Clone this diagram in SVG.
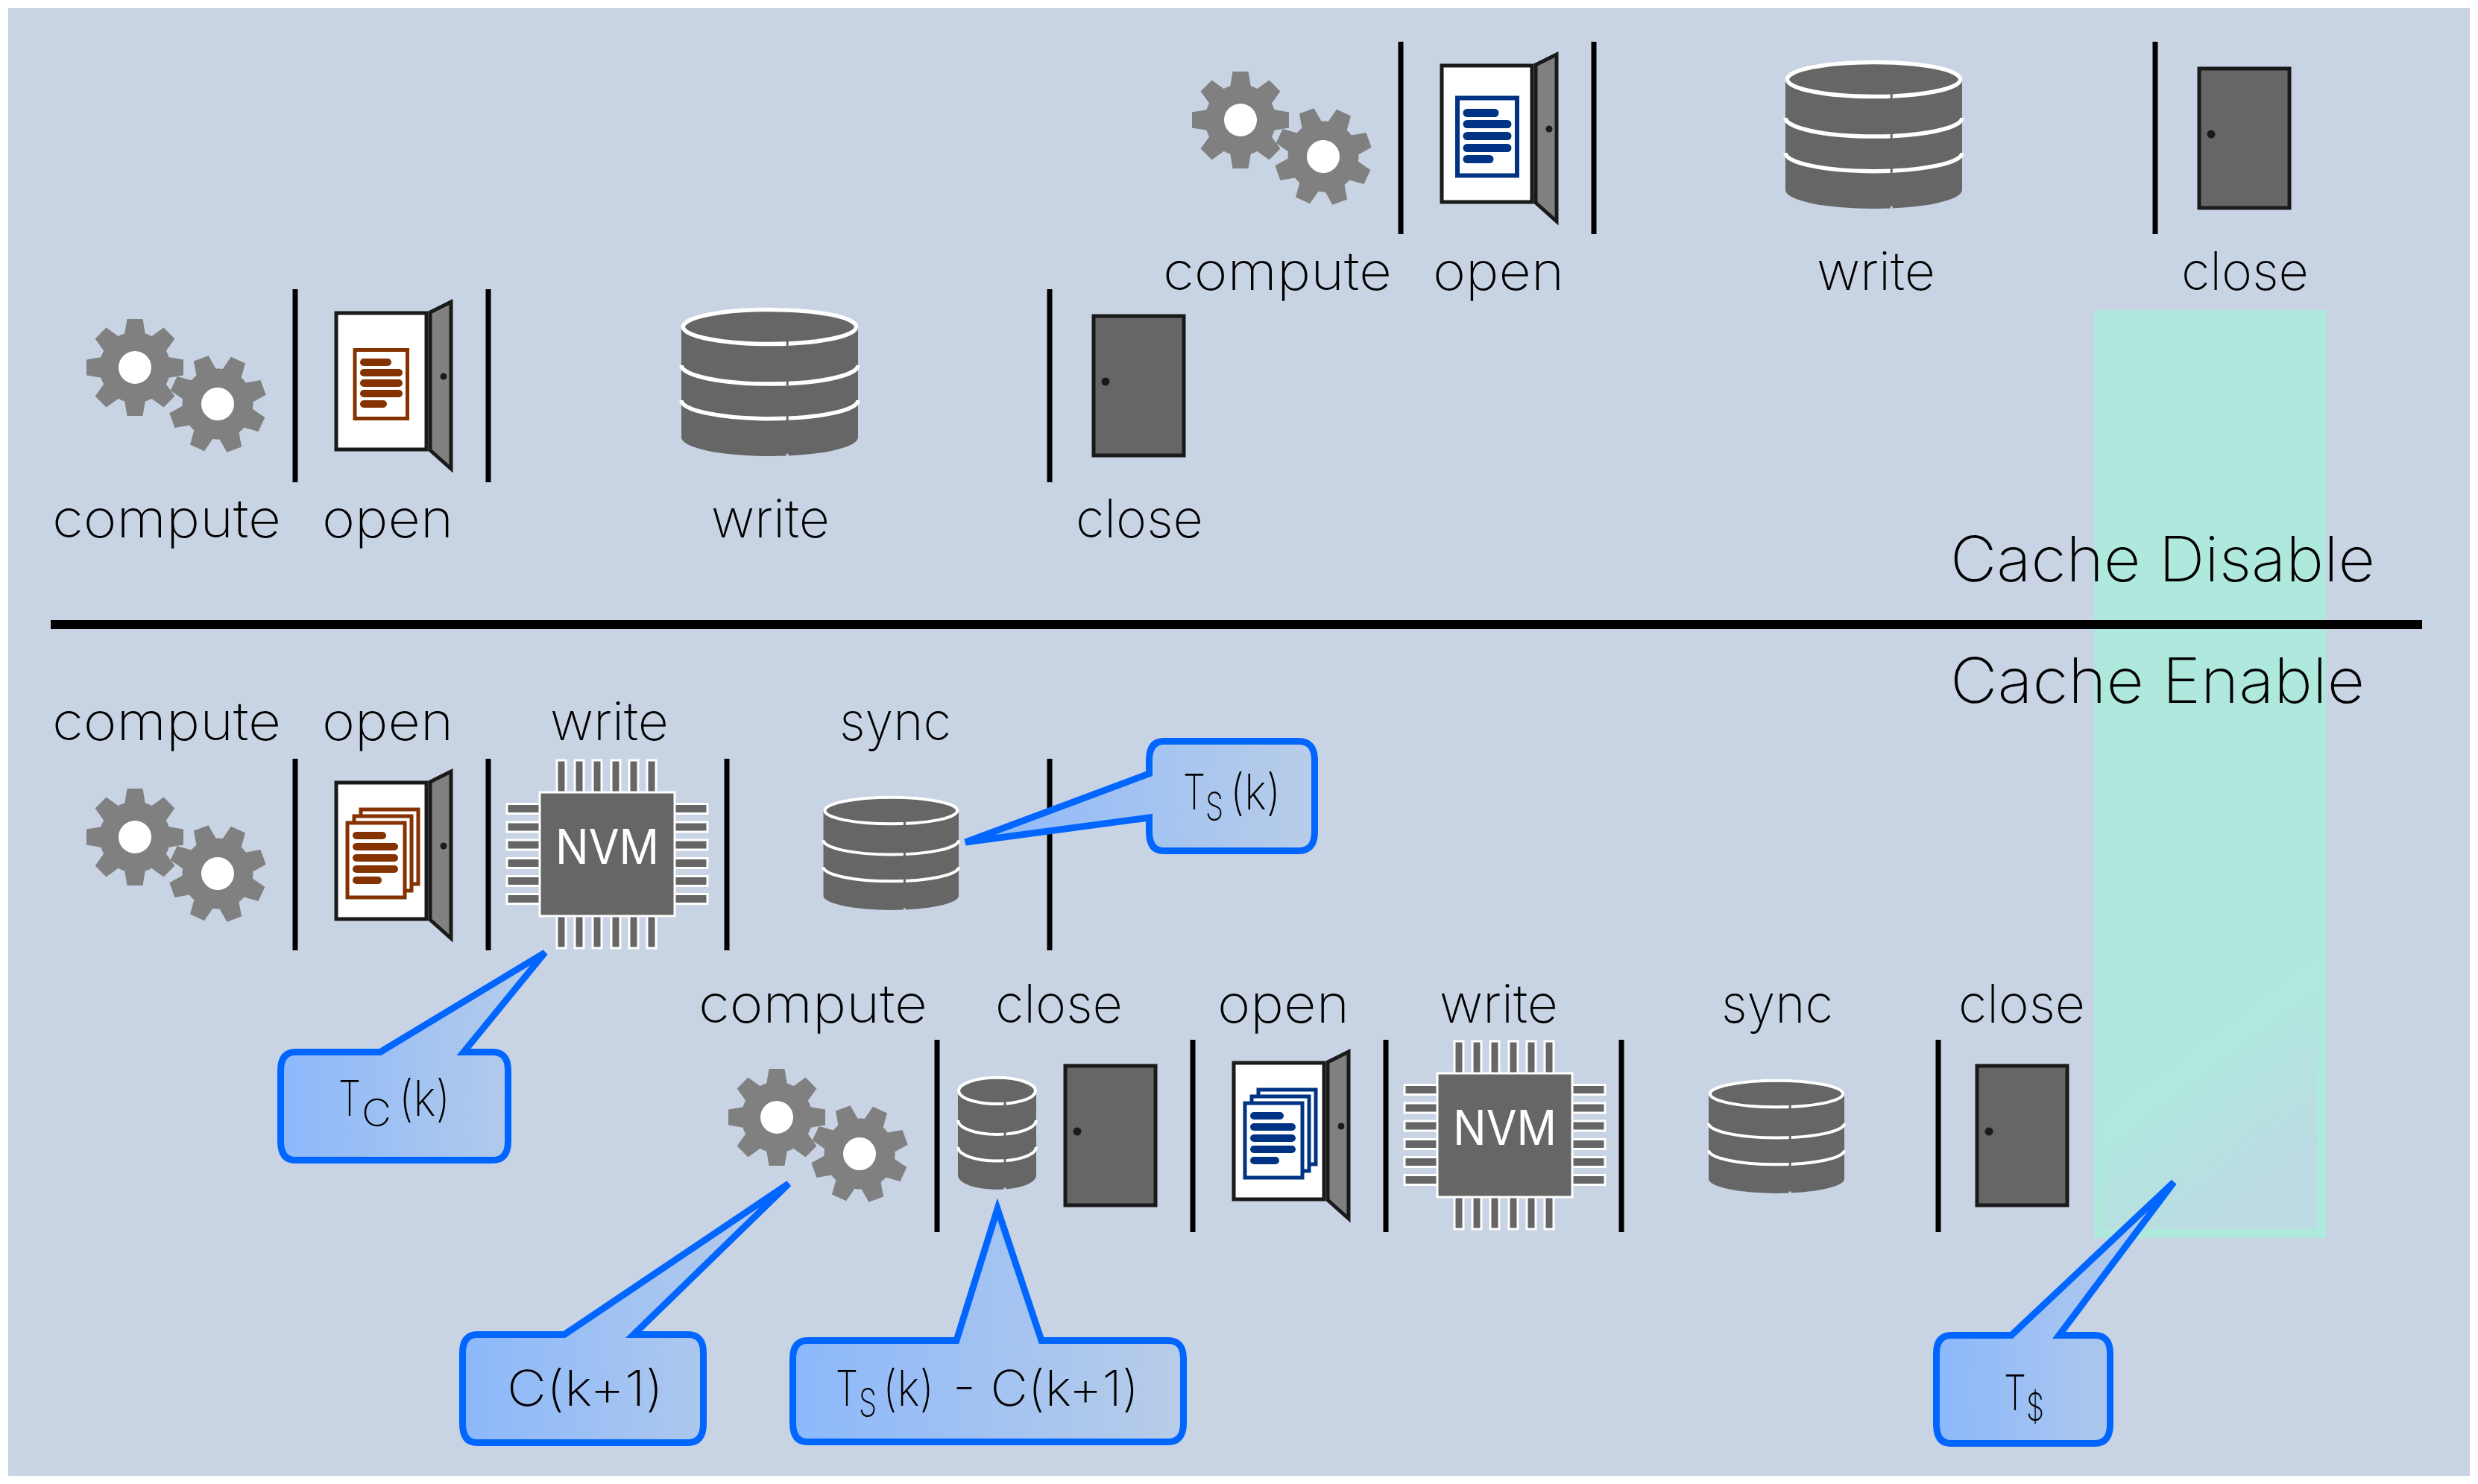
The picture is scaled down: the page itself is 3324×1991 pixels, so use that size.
<svg xmlns="http://www.w3.org/2000/svg" width="3324" height="1991" viewBox="0 0 3324 1991">
<style>
text{font-family:"Inter","Lato","Liberation Sans",sans-serif;font-weight:200;fill:#000}
.l{font-size:72px}
.big{font-size:84px}
.c{font-size:66px}
.s{font-size:51px}
.sep{stroke:#000;stroke-width:7;fill:none}
.frame{fill:#fff;stroke:#1a1a1a;stroke-width:5}
.leaf{fill:#808080;stroke:#1a1a1a;stroke-width:5}
.call{fill:url(#cg);stroke:#0066ff;stroke-width:9;stroke-miterlimit:4}
.pin{fill:#666;stroke:#fff;stroke-width:3}
.brown{color:#843200}
.blue{color:#003383}
.pg{fill:#fff;stroke:currentColor;stroke-width:5}
.bar{fill:currentColor}
.ring{fill:none;stroke:#fff;vector-effect:non-scaling-stroke}
.seam{fill:none;stroke:#666;stroke-width:3;vector-effect:non-scaling-stroke}
</style>
<defs>
<linearGradient id="cg" x1="0" y1="0" x2="1" y2="0"><stop offset="0" stop-color="#8cb8fb"/><stop offset="1" stop-color="#b8cde8"/></linearGradient>
<linearGradient id="gg" gradientUnits="userSpaceOnUse" x1="2960" y1="1400" x2="3080" y2="1560"><stop offset="0" stop-color="#afe9de"/><stop offset="1" stop-color="#bcdbe3"/></linearGradient>
<polygon id="tooth" points="-14,-44 -10.5,-65 10.5,-65 14,-44" fill="#808080"/>
<g id="gear">
<circle r="47.5" fill="#808080"/>
<use href="#tooth"/><use href="#tooth" transform="rotate(45)"/><use href="#tooth" transform="rotate(90)"/><use href="#tooth" transform="rotate(135)"/><use href="#tooth" transform="rotate(180)"/><use href="#tooth" transform="rotate(225)"/><use href="#tooth" transform="rotate(270)"/><use href="#tooth" transform="rotate(315)"/>
<circle r="22" fill="#fff"/>
</g>
<g id="gears"><use href="#gear"/><use href="#gear" transform="translate(111,49) rotate(-20)"/></g>
<g id="db">
<path d="M0,12.8V87.4A50,12.6 0 0 0 100,87.4V12.8A50,12.8 0 0 0 0,12.8Z" fill="#666"/>
<ellipse class="ring" cx="50" cy="12.8" rx="49" ry="11.6"/>
<path class="ring" d="M0,38.7A50,12.6 0 0 0 100,38.7M0,62.3A50,12.4 0 0 0 100,62.3"/>
<path class="seam" d="M60,22.5v3.5M60,49.2v3.5M60,72.8v3.5"/>
<path d="M60,98.4v1.6" fill="none" stroke="#c8d3e4" stroke-width="3" vector-effect="non-scaling-stroke"/>
</g>
<g id="openframe">
<rect class="frame" x="2" y="2" width="121" height="183"/>
<polygon class="leaf" points="128,1 156,-13 156,211 128,186"/>
<rect x="154" y="-13" width="4" height="224" fill="#1a1a1a"/>
<circle cx="146" cy="87" r="4.5" fill="#1a1a1a"/>
</g>
<g id="doc">
<rect class="pg" x="27" y="51.5" width="70.5" height="92"/>
<rect class="bar" x="34" y="63" width="42" height="10" rx="5"/>
<rect class="bar" x="34" y="77" width="57" height="10" rx="5"/>
<rect class="bar" x="34" y="91" width="57" height="10" rx="5"/>
<rect class="bar" x="34" y="105" width="57" height="10" rx="5"/>
<rect class="bar" x="34" y="119" width="36" height="10" rx="5"/>
</g>
<g id="doc2">
<rect class="pg" x="23" y="45.5" width="80" height="104" style="stroke-width:6"/>
<rect class="bar" x="30.5" y="60" width="48" height="11" rx="5.5"/>
<rect class="bar" x="30.5" y="75" width="65" height="11" rx="5.5"/>
<rect class="bar" x="30.5" y="91" width="65" height="11" rx="5.5"/>
<rect class="bar" x="30.5" y="107" width="65" height="11" rx="5.5"/>
<rect class="bar" x="30.5" y="122" width="41" height="11" rx="5.5"/>
</g>
<g id="docs">
<rect class="pg" x="35" y="38" width="77" height="100"/>
<rect class="pg" x="26" y="47" width="77" height="100"/>
<rect class="pg" x="17" y="56" width="77" height="100"/>
<rect class="bar" x="24" y="68" width="45" height="10" rx="5"/>
<rect class="bar" x="24" y="83" width="61" height="10" rx="5"/>
<rect class="bar" x="24" y="98" width="61" height="10" rx="5"/>
<rect class="bar" x="24" y="113" width="61" height="10" rx="5"/>
<rect class="bar" x="24" y="128" width="39" height="10" rx="5"/>
</g>
<g id="door">
<rect x="2" y="2" width="121" height="187" fill="#666" stroke="#1a1a1a" stroke-width="5"/>
<circle cx="18" cy="90" r="5.5" fill="#1a1a1a"/>
</g>
<g id="chip">
<rect class="pin" x="23" y="-43" width="12" height="45"/><rect class="pin" x="47" y="-43" width="12" height="45"/><rect class="pin" x="71" y="-43" width="12" height="45"/><rect class="pin" x="96" y="-43" width="12" height="45"/><rect class="pin" x="120" y="-43" width="12" height="45"/><rect class="pin" x="144" y="-43" width="12" height="45"/>
<rect class="pin" x="23" y="164" width="12" height="45"/><rect class="pin" x="47" y="164" width="12" height="45"/><rect class="pin" x="71" y="164" width="12" height="45"/><rect class="pin" x="96" y="164" width="12" height="45"/><rect class="pin" x="120" y="164" width="12" height="45"/><rect class="pin" x="144" y="164" width="12" height="45"/>
<rect class="pin" x="-44" y="15.5" width="46" height="13"/><rect class="pin" x="-44" y="40" width="46" height="13"/><rect class="pin" x="-44" y="64" width="46" height="13"/><rect class="pin" x="-44" y="88.5" width="46" height="13"/><rect class="pin" x="-44" y="112.5" width="46" height="13"/><rect class="pin" x="-44" y="136.5" width="46" height="13"/>
<rect class="pin" x="179" y="15.5" width="46" height="13"/><rect class="pin" x="179" y="40" width="46" height="13"/><rect class="pin" x="179" y="64" width="46" height="13"/><rect class="pin" x="179" y="88.5" width="46" height="13"/><rect class="pin" x="179" y="112.5" width="46" height="13"/><rect class="pin" x="179" y="136.5" width="46" height="13"/>
<rect x="0" y="0" width="181" height="166" fill="#666" stroke="#fff" stroke-width="3"/>
<text x="21" y="96" textLength="139" lengthAdjust="spacingAndGlyphs" style="font-size:64px;fill:#fff;font-weight:400">NVM</text>
</g>
</defs>

<rect id="page" width="3324" height="1991" fill="#fff"/>
<rect id="panel" x="11" y="11" width="3302" height="1969" fill="#c8d3e4"/>
<g id="cache-window">
<rect x="2809" y="416" width="311" height="1245" fill="#afe9de"/>
<rect x="2822" y="1100" width="286" height="549" fill="url(#gg)"/>
</g>
<rect id="divider" x="68" y="832" width="3181" height="12" fill="#000"/>

<g id="connectors">
<path class="sep" d="M396,388V647M655,388V647M1408,388V647M1879,56V314M2138,56V314M2891,56V314M396,1018V1275M655,1018V1275M975,1018V1275M1408,1018V1275M1257,1395V1653M1600,1395V1653M1859,1395V1653M2175,1395V1653M2600,1395V1653"/>
</g>

<g id="disable-row-2">
<g id="gears-1"><use href="#gears" x="181" y="493"/><text class="l" x="70" y="721" textLength="307" lengthAdjust="spacingAndGlyphs">compute</text></g>
<g id="open-1" class="brown"><use href="#openframe" x="449" y="418"/><use href="#doc" x="449" y="418"/><text class="l" x="432" y="721" textLength="176" lengthAdjust="spacingAndGlyphs">open</text></g>
<g id="write-1"><use href="#db" stroke-width="5.5" transform="translate(914,413) scale(2.37,1.99)"/><text class="l" x="954" y="721" textLength="159" lengthAdjust="spacingAndGlyphs">write</text></g>
<g id="close-1"><use href="#door" x="1465" y="422"/><text class="l" x="1443" y="721" textLength="171" lengthAdjust="spacingAndGlyphs">close</text></g>
</g>
<g id="disable-row-1">
<g id="gears-2"><use href="#gears" x="1664" y="161"/><text class="l" x="1560" y="389" textLength="307" lengthAdjust="spacingAndGlyphs">compute</text></g>
<g id="open-2" class="blue"><use href="#openframe" x="1932" y="86"/><use href="#doc2" x="1932" y="86"/><text class="l" x="1922" y="389" textLength="176" lengthAdjust="spacingAndGlyphs">open</text></g>
<g id="write-2"><use href="#db" stroke-width="5.5" transform="translate(2395,81) scale(2.37,1.99)"/><text class="l" x="2437" y="389" textLength="159" lengthAdjust="spacingAndGlyphs">write</text></g>
<g id="close-2"><use href="#door" x="2948" y="90"/><text class="l" x="2926" y="389" textLength="171" lengthAdjust="spacingAndGlyphs">close</text></g>
</g>
<text id="cache-disable" class="big" x="2616" y="780" textLength="570" lengthAdjust="spacingAndGlyphs">Cache Disable</text>
<text id="cache-enable" class="big" x="2616" y="943" textLength="556" lengthAdjust="spacingAndGlyphs">Cache Enable</text>

<g id="enable-row-1">
<g id="gears-3"><text class="l" x="70" y="993" textLength="307" lengthAdjust="spacingAndGlyphs">compute</text><use href="#gears" x="181" y="1123"/></g>
<g id="open-3" class="brown"><text class="l" x="432" y="993" textLength="176" lengthAdjust="spacingAndGlyphs">open</text><use href="#openframe" x="449" y="1048"/><use href="#docs" x="449" y="1048"/></g>
<g id="nvm-1"><text class="l" x="738" y="993" textLength="159" lengthAdjust="spacingAndGlyphs">write</text><use href="#chip" x="724" y="1063"/></g>
<g id="sync-1"><text class="l" x="1126" y="993" textLength="150" lengthAdjust="spacingAndGlyphs">sync</text><use href="#db" stroke-width="4" transform="translate(1104.5,1068) scale(1.815,1.53)"/></g>
</g>
<g id="enable-row-2">
<g id="gears-4"><text class="l" x="937" y="1372" textLength="307" lengthAdjust="spacingAndGlyphs">compute</text><use href="#gears" x="1042" y="1499"/></g>
<g id="close-3"><text class="l" x="1335" y="1372" textLength="171" lengthAdjust="spacingAndGlyphs">close</text><use href="#db" stroke-width="4" transform="translate(1285,1444) scale(1.05,1.52)"/><use href="#door" x="1427" y="1428"/></g>
<g id="open-4" class="blue"><text class="l" x="1633" y="1372" textLength="177" lengthAdjust="spacingAndGlyphs">open</text><use href="#openframe" x="1653" y="1424"/><use href="#docs" x="1653" y="1424"/></g>
<g id="nvm-2"><text class="l" x="1931" y="1372" textLength="159" lengthAdjust="spacingAndGlyphs">write</text><use href="#chip" x="1928" y="1440"/></g>
<g id="sync-2"><text class="l" x="2309" y="1372" textLength="150" lengthAdjust="spacingAndGlyphs">sync</text><use href="#db" stroke-width="4" transform="translate(2292,1448) scale(1.82,1.53)"/></g>
<g id="close-4"><text class="l" x="2627" y="1372" textLength="170" lengthAdjust="spacingAndGlyphs">close</text><use href="#door" x="2650" y="1428"/></g>
</g>

<g id="callout-ts">
<path class="call" d="M1561,994.5H1742Q1763.5,994.5 1763.5,1020V1116Q1763.5,1141.5 1742,1141.5H1561Q1541.5,1141.5 1541.5,1116V1097L1295,1130L1541.5,1038V1020Q1541.5,994.5 1561,994.5Z"/>
<text class="c" y="1086"><tspan x="1587" textLength="30" lengthAdjust="spacingAndGlyphs">T</tspan><tspan class="s" x="1617" dy="14" textLength="24" lengthAdjust="spacingAndGlyphs">S</tspan><tspan x="1650" dy="-14" textLength="68" lengthAdjust="spacingAndGlyphs">(k)</tspan></text>
</g>
<g id="callout-tc">
<path class="call" d="M396,1411.5H510L731,1278L622,1411.5H661Q681.5,1411.5 681.5,1436V1531Q681.5,1556.5 661,1556.5H396Q376.5,1556.5 376.5,1531V1436Q376.5,1411.5 396,1411.5Z"/>
<text class="c" y="1497"><tspan x="454" textLength="30" lengthAdjust="spacingAndGlyphs">T</tspan><tspan class="s" x="485" dy="14" textLength="40" lengthAdjust="spacingAndGlyphs">C</tspan><tspan x="535" dy="-14" textLength="69" lengthAdjust="spacingAndGlyphs">(k)</tspan></text>
</g>
<g id="callout-c">
<path class="call" d="M640,1790.5H757L1058,1588L850,1790.5H923Q943.5,1790.5 943.5,1815V1910Q943.5,1935.5 923,1935.5H640Q620.5,1935.5 620.5,1910V1815Q620.5,1790.5 640,1790.5Z"/>
<text class="c" x="680" y="1886" textLength="210" lengthAdjust="spacingAndGlyphs">C(k+1)</text>
</g>
<g id="callout-diff">
<path class="call" d="M1083,1798.5H1283L1338,1622L1397,1798.5H1567Q1587.5,1798.5 1587.5,1823V1909Q1587.5,1934.5 1567,1934.5H1083Q1063.5,1934.5 1063.5,1909V1823Q1063.5,1798.5 1083,1798.5Z"/>
<text class="c" y="1886"><tspan x="1121" textLength="30" lengthAdjust="spacingAndGlyphs">T</tspan><tspan class="s" x="1152" dy="14" textLength="24" lengthAdjust="spacingAndGlyphs">S</tspan><tspan x="1184" dy="-14" textLength="69" lengthAdjust="spacingAndGlyphs">(k)</tspan><tspan x="1278" textLength="250" lengthAdjust="spacingAndGlyphs">- C(k+1)</tspan></text>
</g>
<g id="callout-tcache">
<path class="call" d="M2617,1791.5H2698L2916,1586L2762,1791.5H2810Q2830.5,1791.5 2830.5,1816V1911Q2830.5,1936.5 2810,1936.5H2617Q2597.5,1936.5 2597.5,1911V1816Q2597.5,1791.5 2617,1791.5Z"/>
<text class="c" y="1892"><tspan x="2688" textLength="30" lengthAdjust="spacingAndGlyphs">T</tspan><tspan class="s" x="2718" dy="14" textLength="24" lengthAdjust="spacingAndGlyphs">$</tspan></text>
</g>
</svg>
